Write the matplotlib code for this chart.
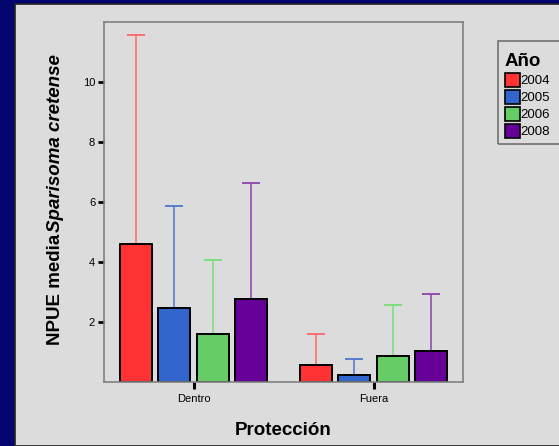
import matplotlib
matplotlib.use("Agg")
import matplotlib.pyplot as plt
from matplotlib.patches import Rectangle, Patch
import numpy as np

plt.rcParams['font.family'] = ['Liberation Sans', 'DejaVu Sans']

# NPUE media por zona de protección y año (barra = media, línea = límite superior)
zonas = ['Dentro', 'Fuera']
anios = ['2004', '2005', '2006', '2008']
media_2004 = [4.58, 0.55]
media_2005 = [2.46, 0.22]
media_2006 = [1.57, 0.84]
media_2008 = [2.75, 1.01]
sup_2004 = [11.57, 1.60]
sup_2005 = [5.87, 0.76]
sup_2006 = [4.07, 2.56]
sup_2008 = [6.62, 2.93]

medias = [media_2004, media_2005, media_2006, media_2008]
superiores = [sup_2004, sup_2005, sup_2006, sup_2008]
colores = ['#FF3333', '#3366CC', '#66CC66', '#660099']
colores_err = ['#FF6666', '#4F74D0', '#77DD77', '#8844AA']

W, H = 559, 446
fig = plt.figure(figsize=(W / 100, H / 100), dpi=100)
fig.patch.set_facecolor('#05056E')

def fx(x):
    return x / W

def fy(y):
    return 1 - y / H

# panel gris
fig.patches.append(Rectangle((fx(15), 0), 1, fy(4), transform=fig.transFigure,
                             facecolor='#DCDCDC', edgecolor='#222222', lw=1.2, zorder=-5))

ax = fig.add_axes([fx(103.5), fy(381.5), 360 / W, 359.5 / H])
ax.patch.set_alpha(0)

x = np.arange(len(zonas))
offsets = [-0.32, -0.107, 0.107, 0.32]
ancho = 0.18
for m, s, off, c, ce in zip(medias, superiores, offsets, colores, colores_err):
    m = np.array(m)
    s = np.array(s)
    ax.errorbar(x + off, m, yerr=[np.zeros_like(m), s - m], fmt='none',
                ecolor=ce, elinewidth=1.1, capsize=6.2, capthick=1.3, zorder=1)
    ax.bar(x + off, m, ancho, color=c, edgecolor='black', linewidth=1.4, zorder=2)

ax.set_xlim(-0.5, 1.5)
ax.set_ylim(0, 12)
ax.set_yticks([2, 4, 6, 8, 10])
ax.set_xticks(x)
ax.set_xticklabels(zonas)
ax.tick_params(axis='y', length=4.5, width=2, pad=1.5, labelsize=8, color='black')
ax.tick_params(axis='x', length=5, width=2.2, pad=4, labelsize=8, color='black')
for sp in ax.spines.values():
    sp.set_color('#808080')
    sp.set_linewidth(1.2)

ax.set_xlabel('Protección', fontsize=13.5, fontweight='bold', labelpad=13)

# etiqueta del eje y en dos partes (normal + cursiva)
t1 = fig.text(fx(60.5), fy(345), 'NPUE media', rotation=90, rotation_mode='anchor',
              ha='left', va='baseline', fontsize=13.5, fontweight='bold')
fig.canvas.draw()
bb = t1.get_window_extent()
fig.text(fx(60.5), (bb.y1 + 2) / H, 'Sparisoma cretense', rotation=90,
         rotation_mode='anchor', ha='left', va='baseline', fontsize=13.5,
         fontweight='bold', style='italic')

# leyenda
fig.patches.append(Rectangle((fx(498.3), fy(144.3)), 0.2, (144.3 - 40.7) / H,
                             transform=fig.transFigure, facecolor='none',
                             edgecolor='#707070', lw=1.2, zorder=3))
handles = [Patch(facecolor=c, edgecolor='black', linewidth=1.2) for c in colores]
leg = fig.legend(handles, anios, loc='upper left', bbox_to_anchor=(fx(505), fy(53)),
                 frameon=False, fontsize=9.5, handlelength=1.1, handleheight=1.3,
                 handletextpad=0.05, labelspacing=0.19, borderpad=0, borderaxespad=0,
                 title='Año', title_fontproperties={'weight': 'bold', 'size': 13.5},
                 alignment='left')

fig.savefig('out.png', dpi=100, facecolor=fig.get_facecolor())
